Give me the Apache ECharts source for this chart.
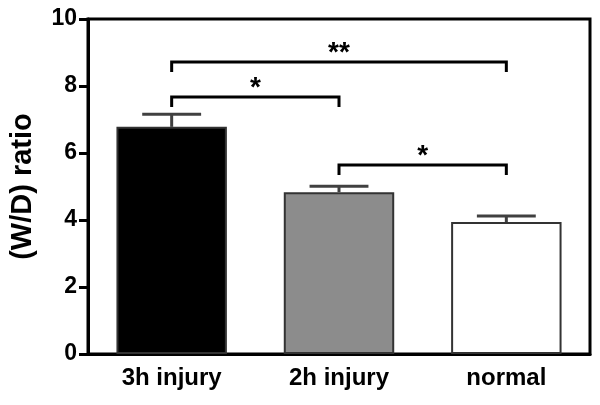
<!DOCTYPE html>
<html>
<head>
<meta charset="utf-8">
<script src="https://cdn.jsdelivr.net/npm/echarts@6/dist/echarts.min.js"></script>
<style>html,body{margin:0;padding:0;background:#fff;}#c{width:600px;height:405px;}</style>
</head>
<body>
<div id="c"></div>
<script>
var categories = ['3h injury', '2h injury', 'normal'];
var means = [6.78, 4.83, 3.94];
var errors = [0.38, 0.18, 0.18];
var barColors = ['#000000', '#8c8c8c', '#ffffff'];
// significance brackets: [fromIndex, toIndex, lineValue, legValue, label]
var bracketFrom = [0, 0, 1];
var bracketTo = [2, 1, 2];
var bracketY = [8.72, 7.67, 5.64];
var bracketLeg = [8.42, 7.37, 5.34];
var bracketLabel = ['**', '*', '*'];
var yTicks = [0, 2, 4, 6, 8, 10];

var FONT = '"Liberation Sans", Arial, sans-serif';
var chart = echarts.init(document.getElementById('c'), null, {renderer: 'canvas'});

var barData = means.map(function (m, i) {
  return {value: m, itemStyle: {color: barColors[i], borderColor: '#333', borderWidth: 2}};
});
var errData = means.map(function (m, i) { return [i, m, errors[i]]; });
var brData = bracketFrom.map(function (f, i) {
  return [f, bracketTo[i], bracketY[i], bracketLeg[i], i];
});

chart.setOption({
  animation: false,
  backgroundColor: '#fff',
  grid: {left: 88, right: 10, top: 19, bottom: 51, show: true, borderColor: '#000', borderWidth: 3, backgroundColor: 'transparent'},
  xAxis: {
    type: 'category',
    data: categories,
    axisLine: {lineStyle: {color: '#000', width: 3}},
    axisTick: {alignWithLabel: true, length: 8, lineStyle: {color: '#000', width: 3}},
    axisLabel: {color: '#000', fontWeight: 'bold', fontSize: 24, fontFamily: FONT, margin: 12}
  },
  yAxis: {
    type: 'value',
    min: yTicks[0],
    max: yTicks[yTicks.length - 1],
    interval: yTicks[1] - yTicks[0],
    name: '(W/D) ratio',
    nameLocation: 'middle',
    nameGap: 51,
    nameTextStyle: {color: '#000', fontWeight: 'bold', fontSize: 29, fontFamily: FONT},
    axisLine: {show: true, lineStyle: {color: '#000', width: 3}},
    axisTick: {show: true, length: 9, lineStyle: {color: '#000', width: 3}},
    axisLabel: {color: '#000', fontWeight: 'bold', fontSize: 23, fontFamily: FONT, margin: 11},
    splitLine: {show: false}
  },
  series: [
    {
      type: 'bar',
      data: barData,
      barWidth: '66%',
      z: 2
    },
    {
      type: 'custom',
      data: errData,
      z: 3,
      clip: false,
      renderItem: function (params, api) {
        var i = api.value(0);
        var m = api.value(1);
        var e = api.value(2);
        var base = api.coord([i, m]);
        var top = api.coord([i, m + e]);
        var half = api.size([1, 0])[0] * 0.176;
        var style = {stroke: '#404040', lineWidth: 3};
        return {
          type: 'group',
          children: [
            {type: 'line', shape: {x1: base[0], y1: base[1], x2: top[0], y2: top[1]}, style: style},
            {type: 'line', shape: {x1: top[0] - half, y1: top[1], x2: top[0] + half, y2: top[1]}, style: style}
          ]
        };
      }
    },
    {
      type: 'custom',
      data: brData,
      z: 4,
      clip: false,
      renderItem: function (params, api) {
        var f = api.value(0), t = api.value(1), y = api.value(2), leg = api.value(3);
        var idx = params.dataIndex;
        var a = api.coord([f, y]), b = api.coord([t, y]);
        var la = api.coord([f, leg]), lb = api.coord([t, leg]);
        return {
          type: 'group',
          children: [
            {type: 'polyline', shape: {points: [[la[0], la[1]], [a[0], a[1]], [b[0], b[1]], [lb[0], lb[1]]]},
             style: {stroke: '#000', lineWidth: 3, fill: null}},
            {type: 'text', style: {text: bracketLabel[idx], x: (a[0] + b[0]) / 2, y: a[1] + 5,
              textAlign: 'center', textVerticalAlign: 'bottom', fill: '#000',
              font: 'bold 28px ' + FONT}}
          ]
        };
      }
    }
  ]
});
</script>
</body>
</html>
